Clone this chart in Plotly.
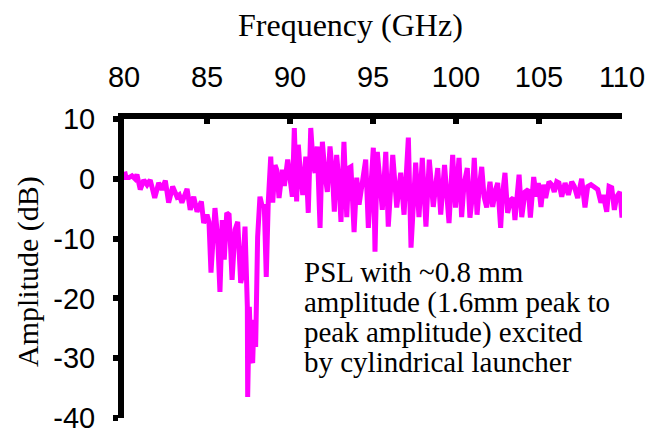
import plotly.graph_objects as go

# Frequency (GHz) and amplitude (dB)
freq_ghz = [
    80.04, 80.12, 80.30, 80.48, 80.66, 80.78, 80.98, 81.19, 81.39, 81.58,
    81.85, 82.09, 82.29, 82.49, 82.69, 82.93, 83.19, 83.33, 83.49, 83.80,
    83.99, 84.20, 84.40, 84.66, 84.80, 85.00, 85.12, 85.24, 85.48, 85.64,
    85.78, 85.92, 86.04, 86.19, 86.33, 86.51, 86.69, 86.85, 87.03, 87.13,
    87.29, 87.43, 87.45, 87.55, 87.65, 87.75, 87.83, 87.93, 88.05, 88.19,
    88.33, 88.45, 88.57, 88.69, 88.84, 88.96, 89.10, 89.20, 89.34, 89.54,
    89.66, 89.86, 90.14, 90.26, 90.40, 90.50, 90.63, 90.77, 90.95, 91.10,
    91.25, 91.40, 91.51, 91.64, 91.81, 91.95, 92.11, 92.25, 92.41, 92.55,
    92.67, 92.81, 92.95, 93.07, 93.25, 93.42, 93.55, 93.67, 93.86, 94.02,
    94.16, 94.36, 94.56, 94.72, 94.88, 95.02, 95.12, 95.26, 95.42, 95.56,
    95.77, 95.92, 96.19, 96.43, 96.67, 96.87, 97.13, 97.29, 97.57, 97.77,
    97.97, 98.19, 98.39, 98.63, 98.90, 99.08, 99.31, 99.58, 99.80, 99.97,
    100.18, 100.34, 100.48, 100.68, 100.84, 100.98, 101.10, 101.27, 101.39, 101.55,
    101.69, 101.85, 102.05, 102.21, 102.39, 102.51, 102.69, 102.79, 102.95, 103.11,
    103.31, 103.45, 103.55, 103.80, 103.96, 104.16, 104.36, 104.48, 104.68, 104.84,
    104.96, 105.12, 105.26, 105.40, 105.60, 105.77, 105.92, 106.07, 106.20, 106.37,
    106.57, 106.77, 106.97, 107.13, 107.33, 107.57, 107.77, 107.93, 108.13, 108.33,
    108.54, 108.73, 108.87, 109.08, 109.22, 109.38, 109.54, 109.68, 109.88, 110.00,
]
amplitude_db = [
    1.2, 0.2, 0.2, 0.5, 0.0, 0.7, -1.8, -0.2, -1.0, -0.2,
    -3.2, -0.7, -1.8, -0.3, -4.0, -1.3, -3.0, -2.7, -4.0, -1.7,
    -5.2, -3.0, -5.5, -3.8, -7.4, -6.0, -7.2, -15.7, -4.9, -9.7,
    -18.9, -6.9, -13.5, -5.7, -6.0, -16.9, -8.5, -7.2, -17.4, -16.2,
    -8.0, -21.4, -36.5, -21.4, -29.8, -30.8, -23.6, -28.1, -9.7, -3.0,
    -4.7, -4.3, -16.4, -4.0, 3.7, -4.0, 2.3, 1.5, -3.2, 1.5,
    -1.2, 3.2, -3.0, 8.5, -3.8, 5.7, 0.7, -2.7, 3.7, -5.7,
    8.5, 2.3, 1.0, 5.4, -8.2, 6.2, 0.7, -2.2, 5.4, 1.2,
    -5.5, 4.0, -0.5, -7.2, 6.2, -6.4, 1.8, 2.0, -8.9, 0.2,
    -4.3, 0.2, 3.2, -8.2, -0.5, 5.2, -12.2, 4.5, -0.5, -5.2,
    4.5, -8.0, 4.0, -4.8, 1.0, -6.0, 6.9, -11.5, 2.7, -6.4,
    3.5, -8.0, 3.2, -4.7, 1.8, -6.0, 2.3, -7.4, 4.0, -4.8,
    3.5, -6.4, -1.0, 1.8, -6.5, -3.0, 3.5, -6.0, -1.8, 2.0,
    -3.0, -4.8, -0.5, -4.7, -1.8, -0.7, -8.2, -3.0, 1.0, -5.7,
    -3.5, -3.2, -6.9, 0.7, -6.4, -2.2, -1.8, -6.5, 0.3, -3.0,
    -0.7, -4.7, -1.0, -3.2, -0.5, -1.0, -2.2, -0.5, -0.7, -3.0,
    -0.7, -2.7, -0.5, -1.3, -3.2, 0.0, -4.8, -1.3, -1.0, -1.5,
    -1.8, -4.0, -2.7, -5.5, -1.3, -1.5, -5.2, -3.0, -2.2, -6.5,
]

x_ticks = [80, 85, 90, 95, 100, 105, 110]
x_tick_labels = ["80", "85", "90", "95", "100", "105", "110"]
y_ticks = [10, 0, -10, -20, -30, -40]
y_tick_labels = ["10", "0", "-10", "-20", "-30", "-40"]

note_lines = [
    "PSL with ~0.8 mm",
    "amplitude (1.6mm peak to",
    "peak amplitude) excited",
    "by cylindrical launcher",
]

W, H = 650, 428
ML, MR, MT, MB = 124, 28, 119, 10
PW, PH = W - ML - MR, H - MT - MB


def px(x):
    return (x - ML) / PW


def py(y):
    return (H - MB - y) / PH


SERIF = "Liberation Serif, Times New Roman, serif"
SANS = "Liberation Sans, Arial, sans-serif"

fig = go.Figure()
fig.add_trace(go.Scatter(
    x=freq_ghz, y=amplitude_db, mode="lines",
    line=dict(color="#FF00FF", width=5),
    showlegend=False, hoverinfo="skip", cliponaxis=False,
))

fig.update_layout(
    width=W, height=H,
    margin=dict(l=ML, r=MR, t=MT, b=MB, pad=0, autoexpand=False),
    paper_bgcolor="white", plot_bgcolor="white",
    xaxis=dict(
        side="top", range=[80, 110], tickvals=x_ticks, ticktext=x_tick_labels,
        ticks="inside", ticklen=5, tickwidth=6, tickcolor="black",
        showline=True, linewidth=6, linecolor="black",
        showgrid=False, zeroline=False, automargin=False,
        tickfont=dict(family=SANS, size=29, color="black"),
        ticklabelstandoff=14, ticklabeloverflow="allow",
    ),
    yaxis=dict(
        range=[-40, 10], tickvals=y_ticks, ticktext=y_tick_labels,
        ticks="outside", ticklen=5, tickwidth=6, tickcolor="black",
        showline=True, linewidth=6, linecolor="black",
        showgrid=False, zeroline=False, automargin=False,
        tickfont=dict(family=SANS, size=29, color="black"),
        ticklabelstandoff=12, ticklabeloverflow="allow",
    ),
)

annotations = [
    dict(text="Frequency (GHz)", x=px(350), y=py(25), xref="paper", yref="paper",
         showarrow=False, xanchor="center", yanchor="middle",
         font=dict(family=SERIF, size=32, color="black")),
    dict(text="Amplitude (dB)", x=px(28), y=py(272), xref="paper", yref="paper",
         showarrow=False, xanchor="center", yanchor="middle", textangle=-90,
         font=dict(family=SERIF, size=30, color="black")),
]
line_y = [272, 302, 332, 362]
for t, yy in zip(note_lines, line_y):
    annotations.append(dict(
        text=t, x=px(302), y=py(yy), xref="paper", yref="paper",
        showarrow=False, xanchor="left", yanchor="middle",
        font=dict(family=SERIF, size=29, color="black"),
    ))
fig.update_layout(annotations=annotations)

fig.write_html(
    "out.html",
    config={"displayModeBar": False, "staticPlot": True},
    post_script="document.body.style.margin='0';document.body.style.overflow='hidden';",
)
